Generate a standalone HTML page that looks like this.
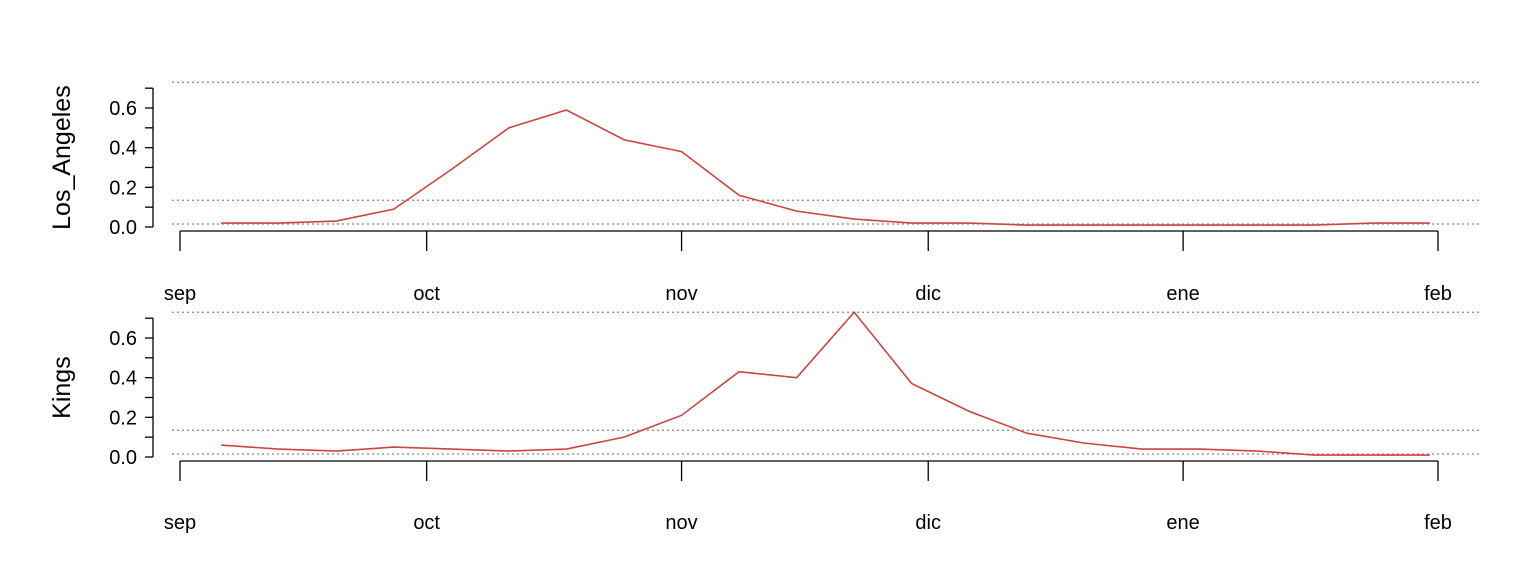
<!DOCTYPE html>
<html><head><meta charset="utf-8"><style>
body{margin:0;background:#fff;}
svg text{font-family:"Liberation Sans",Arial,sans-serif;fill:#000;}
</style></head><body>
<svg id="chart" width="1536" height="576" xmlns="http://www.w3.org/2000/svg"></svg>
<script>
const months=["sep","oct","nov","dic","ene","feb"];
const monthDays=[0,30,61,91,122,153];
const weekDays=[5,12,19,26,33,40,47,54,61,68,75,82,89,96,103,110,117,124,131,138,145,152];
const losAngeles=[0.02,0.02,0.03,0.09,0.29,0.50,0.59,0.44,0.38,0.16,0.08,0.04,0.02,0.02,0.01,0.01,0.01,0.01,0.01,0.01,0.02,0.02];
const kings=[0.06,0.04,0.03,0.05,0.04,0.03,0.04,0.10,0.21,0.43,0.40,0.73,0.37,0.23,0.12,0.07,0.04,0.04,0.03,0.01,0.01,0.01];
const yTicks=[0,0.2,0.4,0.6];
const refLines=[0.73,0.135,0.015];
const svg=document.getElementById('chart');
const NS="http://www.w3.org/2000/svg";
function mk(t,a){const e=document.createElementNS(NS,t);for(const k in a)e.setAttribute(k,a[k]);svg.appendChild(e);return e;}
const x=d=>180+d*(1438-180)/153;
function panel(name,vals,y0,axisY,labY,key){
  const y=v=>y0-v*(119/0.6);
  refLines.forEach(r=>{const l=mk('line',{x1:172,x2:1480,y1:y(r),y2:y(r),stroke:'#888','stroke-width':1.3,'stroke-dasharray':'2,3'});
  
  });
  const ax=mk('line',{x1:153,x2:153,y1:y(0.7),y2:y(0),stroke:'#000','stroke-width':1.3});
  
  
  for(let i=0;i<=7;i++){const v=i*0.1;mk('line',{x1:145,x2:153,y1:y(v),y2:y(v),stroke:'#000','stroke-width':1.3});}
  yTicks.forEach(v=>{const t=mk('text',{x:137,y:y(v)+7,'text-anchor':'end','font-size':20});t.textContent=v.toFixed(1);
  
  });
  const tt=mk('text',{x:0,y:0,'font-size':25,'text-anchor':'middle',transform:`translate(70,${y(0.35)}) rotate(-90)`});tt.textContent=name;
  
  
  const xa=mk('line',{x1:x(0),x2:x(153),y1:axisY,y2:axisY,stroke:'#000','stroke-width':1.3});
  
  
  monthDays.forEach((d,i)=>{mk('line',{x1:x(d),x2:x(d),y1:axisY,y2:axisY+20,stroke:'#000','stroke-width':1.3});
    const t=mk('text',{x:x(d),y:labY,'text-anchor':'middle','font-size':20});t.textContent=months[i];
    
    });
  const p=mk('polyline',{points:vals.map((v,i)=>x(weekDays[i])+','+y(v)).join(' '),fill:'none',stroke:'#cd4540','stroke-width':1.6});
  
  
}
panel('Los_Angeles',losAngeles,227,231,300,'los-angeles');
panel('Kings',kings,457,461,529,'kings');
</script>
</body></html>
